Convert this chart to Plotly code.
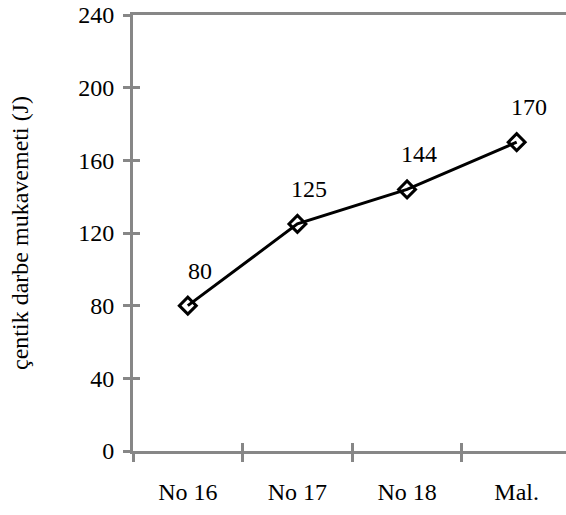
import plotly.graph_objects as go

categories = ["No 16", "No 17", "No 18", "Mal."]
values = [80, 125, 144, 170]
labels = ["80", "125", "144", "170"]
y_ticks = [0, 40, 80, 120, 160, 200, 240]

axis_gray = "#878787"
font = dict(family="Liberation Serif", size=24, color="black")

fig = go.Figure()

fig.add_trace(go.Scatter(
    x=categories, y=values, mode="lines+markers",
    line=dict(color="black", width=3),
    marker=dict(symbol="diamond-open", size=13, color="black", line=dict(width=3)),
    hoverinfo="skip", showlegend=False,
))
# invisible copy so the overlay axes (inside tick halves) get drawn
fig.add_trace(go.Scatter(
    x=categories, y=values, mode="lines", xaxis="x2", yaxis="y2",
    line=dict(width=0), opacity=0, hoverinfo="skip", showlegend=False,
))

for c, v, t in zip(categories, values, labels):
    fig.add_annotation(x=c, y=v, text=t, showarrow=False, xshift=12, yshift=35,
                       font=font)

x_common = dict(type="category", categoryorder="array", categoryarray=categories,
                range=[-0.5, 3.45], tickson="boundaries", ticklen=8,
                tickcolor=axis_gray, tickwidth=3, showgrid=False, zeroline=False)
y_common = dict(range=[0, 240], tickvals=y_ticks, ticklen=7, tickcolor=axis_gray,
                tickwidth=3, showgrid=False, zeroline=False)

fig.update_layout(
    width=566, height=515,
    margin=dict(l=133, r=0, t=15, b=64),
    paper_bgcolor="white", plot_bgcolor="white",
    font=font,
    xaxis=dict(**x_common, ticks="outside", showline=True, linecolor=axis_gray,
               linewidth=3, mirror=True, tickfont=font, ticklabelstandoff=17),
    yaxis=dict(**y_common, ticks="outside", showline=True, linecolor=axis_gray,
               linewidth=3, tickfont=font, ticklabelstandoff=4,
               title=dict(text="çentik darbe mukavemeti (J)", font=font, standoff=43)),
    xaxis2=dict(**x_common, overlaying="x", ticks="inside", showticklabels=False,
                showline=False),
    yaxis2=dict(**y_common, overlaying="y", ticks="inside", showticklabels=False,
                showline=False),
)

fig.write_html("out.html", config={"displayModeBar": False},
               post_script="document.body.style.margin='0';")
